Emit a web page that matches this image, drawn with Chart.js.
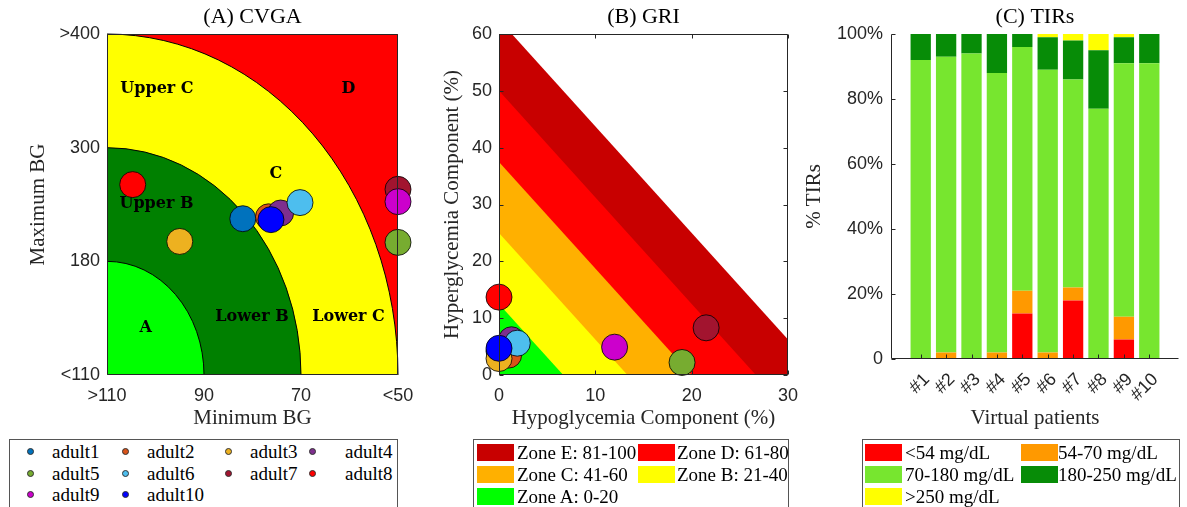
<!DOCTYPE html>
<html>
<head>
<meta charset="utf-8">
<title>CVGA, GRI and TIRs</title>
<script src="https://cdn.jsdelivr.net/npm/chart.js@4.4.1/dist/chart.umd.min.js"></script>
<style>
  body { margin: 0; background: #fff; width: 1187px; height: 507px; position: relative; overflow: hidden; }
  canvas { position: absolute; top: 0; }
  .legend { position: absolute; top: 439px; height: 90px; border: 1px solid #555; background: #fff;
            font: 19px 'Liberation Serif', serif; color: #000; box-sizing: border-box; }
  .legend span { position: absolute; }
  .legend .txt { white-space: nowrap; line-height: 22px; }
  .legend .dot { width: 7px; height: 7px; border-radius: 50%; border: 1px solid #333; box-sizing: border-box; }
  .legend .sw { width: 37px; height: 17px; }
</style>
</head>
<body>
<canvas id="cvga" width="424" height="440" style="left:0px"></canvas>
<canvas id="gri" width="400" height="440" style="left:420px"></canvas>
<canvas id="tirs" width="387" height="440" style="left:800px"></canvas>
<div id="legA" class="legend" style="left:9px; width:389px"></div>
<div id="legB" class="legend" style="left:473px; width:316px"></div>
<div id="legC" class="legend" style="left:862px; width:318px"></div>
<script>
// patients
const patients = ['adult1', 'adult2', 'adult3', 'adult4', 'adult5', 'adult6', 'adult7', 'adult8', 'adult9', 'adult10'];
const patientColors = ['#0072BD', '#D95319', '#EDB120', '#7E2F8E', '#77AC30', '#4DBEEE', '#A2142F', '#FF0000', '#CC00CC', '#0000FF'];

// (A) CVGA - min / max BG per patient (mg/dL)
const cvgaMinBG = [82, 76.7, 95, 74.2, 50, 70.2, 50, 104.7, 50, 76.2];
const cvgaMaxBG = [225, 227, 201, 231, 200, 242, 256, 261, 243, 224];
const cvgaXTicks = [110, 90, 70, 50];
const cvgaXLabels = ['>110', '90', '70', '<50'];
const cvgaYTicks = [110, 180, 300, 400];
const cvgaYLabels = ['<110', '180', '300', '>400'];
// zone borders (min BG, max BG), inner to outer
const cvgaBorderMin = [90, 70, 50];
const cvgaBorderMax = [180, 300, 400];
const cvgaZoneColors = ['#00FF00', '#008000', '#FFFF00', '#FF0000'];

// (B) GRI - hypo / hyper components (%)
const griHypo = [0, 1.0, 0, 1.3, 19.0, 1.9, 21.5, 0, 12.0, 0];
const griHyper = [4.2, 3.5, 2.9, 6.2, 2.2, 5.6, 8.3, 13.7, 4.9, 4.7];
const griZoneNames = ['Zone E: 81-100', 'Zone D: 61-80', 'Zone C: 41-60', 'Zone B: 21-40', 'Zone A: 0-20'];
const griZoneUpper = [100, 80, 60, 40, 20];
const griZoneColors = ['#C80000', '#FF0000', '#FFB000', '#FFFF00', '#00FF00'];
const griHypoWeight = 3;
const griHyperWeight = 1.6;

// (C) TIRs (%)
const tirPatients = ['#1', '#2', '#3', '#4', '#5', '#6', '#7', '#8', '#9', '#10'];
const tirNames = ['<54 mg/dL', '54-70 mg/dL', '70-180 mg/dL', '180-250 mg/dL', '>250 mg/dL'];
const tirColors = ['#FF0000', '#FF9900', '#77E62F', '#078C07', '#FFFF00'];
const tirBelow54 = [0, 0, 0, 0, 14, 0, 18, 0, 6, 0];
const tir54to70 = [0, 2, 0, 2, 7, 2, 4, 0, 7, 0];
const tir70to180 = [92, 91, 94, 86, 75, 87, 64, 77, 78, 91];
const tir180to250 = [8, 7, 6, 12, 4, 10, 12, 18, 8, 9];
const tirAbove250 = [0, 0, 0, 0, 0, 1, 2, 5, 1, 0];

const AX = '#262626';
const tickFont = { family: 'Liberation Sans', size: 18 };
const serifFont = { family: 'Liberation Serif', size: 21 };

// max BG axis is piecewise (110,180,300,400 equally spaced)
function maxBgPos(v) {
  for (let i = 1; i < cvgaYTicks.length; i++) {
    if (v <= cvgaYTicks[i]) return i - 1 + (v - cvgaYTicks[i - 1]) / (cvgaYTicks[i] - cvgaYTicks[i - 1]);
  }
  return cvgaYTicks.length - 1;
}

// frame, inner ticks and panel title
const frame = {
  id: 'frame',
  afterDatasetsDraw(chart, args, opts) {
    const { ctx, chartArea: a, scales: { x, y } } = chart;
    const l = Math.round(a.left) + 0.5, r = Math.round(a.right) - 0.5;
    const t = Math.round(a.top) + 0.5, b = Math.round(a.bottom) - 0.5;
    ctx.save();
    ctx.strokeStyle = AX;
    ctx.lineWidth = 1;
    ctx.beginPath();
    if (opts.box) {
      ctx.rect(l, t, r - l, b - t);
    } else {
      ctx.moveTo(l, t); ctx.lineTo(l, b); ctx.lineTo(r, b);
    }
    if (opts.ticks) {
      const len = 4;
      x.ticks.forEach(tk => {
        const px = Math.round(x.getPixelForValue(tk.value)) + 0.5;
        ctx.moveTo(px, b); ctx.lineTo(px, b - len);
        if (opts.box) { ctx.moveTo(px, t); ctx.lineTo(px, t + len); }
      });
      y.ticks.forEach(tk => {
        const py = Math.round(y.getPixelForValue(tk.value)) + 0.5;
        ctx.moveTo(l, py); ctx.lineTo(l + len, py);
        if (opts.box) { ctx.moveTo(r, py); ctx.lineTo(r - len, py); }
      });
    }
    ctx.stroke();
    ctx.fillStyle = '#000';
    ctx.font = '22px "Liberation Serif"';
    ctx.textAlign = 'center';
    ctx.textBaseline = 'middle';
    ctx.fillText(opts.title, (a.left + a.right) / 2, 17);
    ctx.restore();
  }
};

// CVGA zones
const cvgaZones = {
  id: 'cvgaZones',
  beforeDatasetsDraw(chart) {
    const { ctx, chartArea: a, scales: { x, y } } = chart;
    const cx = x.getPixelForValue(cvgaXTicks[0]), cy = y.getPixelForValue(0);
    ctx.save();
    ctx.fillStyle = cvgaZoneColors[3];
    ctx.fillRect(a.left, a.top, a.width, a.height);
    for (let i = cvgaBorderMin.length - 1; i >= 0; i--) {
      const rx = x.getPixelForValue(cvgaBorderMin[i]) - cx;
      const ry = cy - y.getPixelForValue(maxBgPos(cvgaBorderMax[i]));
      ctx.beginPath();
      ctx.moveTo(cx, cy);
      ctx.lineTo(cx, cy - ry);
      ctx.ellipse(cx, cy, rx, ry, 0, -Math.PI / 2, 0);
      ctx.closePath();
      ctx.fillStyle = cvgaZoneColors[i];
      ctx.fill();
      ctx.beginPath();
      ctx.ellipse(cx, cy, rx, ry, 0, -Math.PI / 2, 0);
      ctx.strokeStyle = '#000';
      ctx.lineWidth = 1;
      ctx.stroke();
    }
    ctx.fillStyle = '#000';
    ctx.font = 'bold 16px "DejaVu Serif"';
    ctx.textAlign = 'center';
    ctx.textBaseline = 'middle';
    [['Upper C', 99.7, 352], ['D', 60.2, 352], ['C', 75.2, 272], ['Upper B', 99.8, 241],
     ['A', 102, 139], ['Lower B', 80.1, 146], ['Lower C', 60.2, 146]].forEach(([txt, mn, mx]) => {
      ctx.fillText(txt, x.getPixelForValue(mn), y.getPixelForValue(maxBgPos(mx)));
    });
    ctx.restore();
  }
};

// GRI zones: triangles 3*hypo + 1.6*hyper < limit
const griZones = {
  id: 'griZones',
  beforeDatasetsDraw(chart) {
    const { ctx, chartArea: a, scales: { x, y } } = chart;
    ctx.save();
    ctx.beginPath();
    ctx.rect(a.left, a.top, a.width, a.height);
    ctx.clip();
    griZoneUpper.forEach((lim, i) => {
      ctx.beginPath();
      ctx.moveTo(x.getPixelForValue(0), y.getPixelForValue(0));
      ctx.lineTo(x.getPixelForValue(lim / griHypoWeight), y.getPixelForValue(0));
      ctx.lineTo(x.getPixelForValue(0), y.getPixelForValue(lim / griHyperWeight));
      ctx.closePath();
      ctx.fillStyle = griZoneColors[i];
      ctx.fill();
    });
    ctx.restore();
  }
};

function yTitle(text, pad) {
  return { display: true, text: text, font: serifFont, color: AX, padding: { top: pad, bottom: 0 } };
}
function xTitle(text) {
  return { display: true, text: text, font: serifFont, color: AX, padding: { top: 0, bottom: 9 } };
}
const noGrid = { display: false, drawTicks: false };

// (A) CVGA
new Chart(document.getElementById('cvga'), {
  type: 'scatter',
  data: {
    datasets: patients.map((p, i) => ({
      label: p,
      data: [{ x: cvgaMinBG[i], y: maxBgPos(cvgaMaxBG[i]) }],
      backgroundColor: patientColors[i],
      borderColor: '#000',
      borderWidth: 0.8,
      pointRadius: 13,
      clip: false,
      order: patients.length - i
    }))
  },
  options: {
    responsive: false,
    animation: false,
    devicePixelRatio: 1,
    layout: { padding: { top: 34, right: 26, left: 0, bottom: 0 } },
    plugins: { legend: { display: false }, tooltip: { enabled: false }, frame: { title: '(A) CVGA', box: true, ticks: false } },
    scales: {
      x: {
        type: 'linear', min: 50, max: 110, reverse: true,
        afterBuildTicks: s => { s.ticks = cvgaXTicks.map(v => ({ value: v })); },
        ticks: { callback: (v, i) => cvgaXLabels[i], font: tickFont, color: AX, padding: 10, maxRotation: 0 },
        grid: noGrid, border: { display: false },
        title: xTitle('Minimum BG'),
        afterFit: s => { s.height = 65; }
      },
      y: {
        type: 'linear', min: 0, max: 3,
        afterBuildTicks: s => { s.ticks = cvgaYLabels.map((v, i) => ({ value: i })); },
        ticks: { callback: (v, i) => cvgaYLabels[i], font: tickFont, color: AX, padding: 7 },
        grid: noGrid, border: { display: false },
        title: yTitle('Maximum BG', 26),
        afterFit: s => { s.width = 107; }
      }
    }
  },
  plugins: [cvgaZones, frame]
});

// (B) GRI
new Chart(document.getElementById('gri'), {
  type: 'scatter',
  data: {
    datasets: patients.map((p, i) => ({
      label: p,
      data: [{ x: griHypo[i], y: griHyper[i] }],
      backgroundColor: patientColors[i],
      borderColor: '#000',
      borderWidth: 0.8,
      pointRadius: 13,
      clip: false,
      order: patients.length - i
    }))
  },
  options: {
    responsive: false,
    animation: false,
    devicePixelRatio: 1,
    layout: { padding: { top: 34, right: 32, left: 0, bottom: 0 } },
    plugins: { legend: { display: false }, tooltip: { enabled: false }, frame: { title: '(B) GRI', box: true, ticks: true } },
    scales: {
      x: {
        type: 'linear', min: 0, max: 30,
        ticks: { stepSize: 10, font: tickFont, color: AX, padding: 10, maxRotation: 0 },
        grid: noGrid, border: { display: false },
        title: xTitle('Hypoglycemia Component (%)'),
        afterFit: s => { s.height = 65; }
      },
      y: {
        type: 'linear', min: 0, max: 60,
        ticks: { stepSize: 10, font: tickFont, color: AX, padding: 7 },
        grid: noGrid, border: { display: false },
        title: yTitle('Hyperglycemia Component (%)', 20),
        afterFit: s => { s.width = 79; }
      }
    }
  },
  plugins: [griZones, frame]
});

// (C) TIRs
const tirSeries = [tirBelow54, tir54to70, tir70to180, tir180to250, tirAbove250];
new Chart(document.getElementById('tirs'), {
  type: 'bar',
  data: {
    datasets: tirSeries.map((vals, k) => ({
      label: tirNames[k],
      data: vals.map((v, i) => ({ x: i + 1, y: v })),
      backgroundColor: tirColors[k],
      barPercentage: 0.8,
      categoryPercentage: 1
    }))
  },
  options: {
    responsive: false,
    animation: false,
    devicePixelRatio: 1,
    layout: { padding: { top: 34, right: 8, left: 0, bottom: 0 } },
    plugins: { legend: { display: false }, tooltip: { enabled: false }, frame: { title: '(C) TIRs', box: false, ticks: true } },
    scales: {
      x: {
        type: 'linear', min: -0.17, max: 11.17, stacked: true, offset: false,
        afterBuildTicks: s => { s.ticks = tirPatients.map((p, i) => ({ value: i + 1 })); },
        ticks: { callback: (v, i) => tirPatients[i], font: tickFont, color: AX, padding: 10, labelOffset: 6,
                 minRotation: 45, maxRotation: 45, autoSkip: false },
        grid: { display: false, drawTicks: false, offset: false }, border: { display: false },
        title: xTitle('Virtual patients'),
        afterFit: s => { s.height = 81; }
      },
      y: {
        type: 'linear', min: 0, max: 100, stacked: true,
        ticks: { stepSize: 20, callback: v => (v === 0 ? '0' : v + '%'), font: tickFont, color: AX, padding: 8 },
        grid: noGrid, border: { display: false },
        title: yTitle('% TIRs', 2),
        afterFit: s => { s.width = 91; }
      }
    }
  },
  plugins: [frame]
});

// legends (MATLAB style grids)
function addSpan(box, cls, css, text) {
  const s = document.createElement('span');
  s.className = cls;
  Object.assign(s.style, css);
  if (text !== undefined) s.textContent = text;
  box.appendChild(s);
}
const legA = document.getElementById('legA');
const dotX = [21, 116, 219, 303], txtAX = [42, 137, 240, 335];
patients.forEach((p, i) => {
  const c = i % 4, r = Math.floor(i / 4), cy = 12 + 21.5 * r;
  addSpan(legA, 'dot', { left: (dotX[c] - 4) + 'px', top: (cy - 4) + 'px', background: patientColors[i] });
  addSpan(legA, 'txt', { left: txtAX[c] + 'px', top: (cy - 11) + 'px' }, p);
});
function swatchLegend(box, names, colors, swX, txtX) {
  names.forEach((n, i) => {
    const c = i % 2, r = Math.floor(i / 2), top = 4 + 22 * r;
    addSpan(box, 'sw', { left: swX[c] + 'px', top: top + 'px', background: colors[i] });
    addSpan(box, 'txt', { left: txtX[c] + 'px', top: (top - 2.5) + 'px' }, n);
  });
}
swatchLegend(document.getElementById('legB'), griZoneNames, griZoneColors, [3, 164], [43, 203]);
swatchLegend(document.getElementById('legC'), tirNames, tirColors, [2, 158], [42, 195]);
</script>
</body>
</html>
